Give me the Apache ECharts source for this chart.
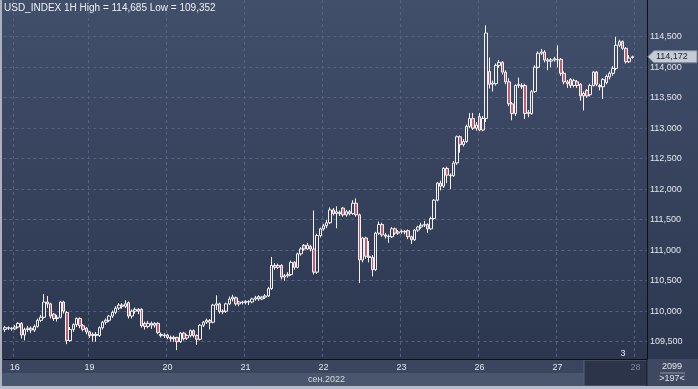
<!DOCTYPE html>
<html><head><meta charset="utf-8">
<script src="https://cdn.jsdelivr.net/npm/echarts@6/dist/echarts.min.js"></script>
<style>html,body{margin:0;padding:0;background:#2c3750;overflow:hidden}#c{width:698px;height:389px}</style>
</head><body><div id="c"></div>
<script>
// ---- data ----
const titleText = 'USD_INDEX 1H High = 114,685 Low = 109,352';
const monthLabel = 'сен.2022';
const dayNames = ['15','16','19','20','21','22','23','26','27','28'];
const barsPerDay = [3,23,24,24,24,24,24,24,24,4];
const yTicks = [109.5,110,110.5,111,111.5,112,112.5,113,113.5,114,114.5];
const lastPrice = 114.172;
const infoTop = '2099';
const infoBottom = '>197<';
const markerText = '3';

const opens = [
109.70,109.73,109.72,109.71,109.74,109.80,109.61,109.70,109.72,109.69,
109.75,109.85,109.90,110.15,110.12,109.95,109.88,109.90,110.15,109.98,
109.52,109.70,109.78,109.88,109.76,109.72,109.66,109.60,109.62,109.60,
109.73,109.82,109.85,109.92,109.98,110.05,110.10,110.08,110.14,109.92,
110.00,110.03,110.03,109.80,109.75,109.80,109.77,109.80,109.62,109.60,
109.61,109.57,109.55,109.57,109.50,109.64,109.56,109.60,109.68,109.60,
109.54,109.77,109.82,109.85,109.82,110.10,110.12,109.99,110.00,110.12,
110.20,110.22,110.12,110.15,110.14,110.16,110.15,110.20,110.24,110.20,
110.23,110.25,110.37,110.75,110.72,110.75,110.56,110.58,110.60,110.80,
110.72,110.94,111.08,111.02,111.06,111.02,110.64,111.24,111.35,111.40,
111.45,111.66,111.60,111.62,111.69,111.58,111.63,111.60,111.77,111.58,
110.84,111.20,110.90,110.88,110.68,111.28,111.42,111.25,111.23,111.22,
111.35,111.28,111.30,111.31,111.32,111.22,111.17,111.33,111.38,111.41,
111.42,111.35,111.52,111.82,112.10,112.05,112.34,112.23,112.22,112.43,
112.86,112.73,112.78,113.03,113.16,113.00,113.19,112.97,113.16,113.93,
113.72,113.73,114.03,114.08,113.92,113.76,113.40,113.24,113.70,113.70,
113.70,113.24,113.24,113.60,114.00,114.23,114.25,114.12,114.10,114.12,
114.12,114.13,113.90,113.76,113.80,113.70,113.76,113.72,113.53,113.62,
113.55,113.70,113.92,113.70,113.68,113.75,113.84,113.90,113.98,114.36,
114.42,114.31,114.09,114.16];
const closes = [
109.73,109.72,109.71,109.74,109.80,109.61,109.70,109.72,109.69,109.75,
109.85,109.90,110.15,110.12,109.92,109.88,109.90,110.15,110.00,109.52,
109.70,109.78,109.88,109.76,109.70,109.66,109.60,109.62,109.60,109.73,
109.82,109.85,109.92,109.98,110.05,110.10,110.08,110.12,109.92,110.00,
110.03,110.00,109.76,109.75,109.80,109.77,109.80,109.65,109.60,109.61,
109.57,109.55,109.57,109.50,109.64,109.55,109.60,109.68,109.60,109.54,
109.77,109.82,109.85,109.82,110.10,110.12,109.99,110.00,110.12,110.20,
110.23,110.12,110.15,110.14,110.16,110.15,110.20,110.22,110.20,110.23,
110.25,110.37,110.75,110.72,110.75,110.56,110.58,110.60,110.80,110.72,
110.94,111.02,111.02,111.08,111.02,110.64,111.24,111.35,111.40,111.45,
111.66,111.60,111.63,111.60,111.58,111.63,111.60,111.77,111.58,110.84,
111.20,110.90,110.88,110.68,111.28,111.42,111.25,111.23,111.22,111.35,
111.28,111.30,111.31,111.30,111.22,111.17,111.33,111.38,111.41,111.42,
111.35,111.52,111.82,112.10,112.05,112.34,112.23,112.22,112.43,112.86,
112.73,112.78,113.03,113.16,113.00,113.05,112.97,113.16,114.56,113.72,
113.74,114.03,114.08,113.92,113.76,113.40,113.24,113.70,113.72,113.68,
113.24,113.26,113.60,114.00,114.23,114.25,114.12,114.10,114.12,114.14,
114.13,113.90,113.76,113.73,113.70,113.78,113.70,113.53,113.57,113.53,
113.70,113.92,113.72,113.68,113.80,113.85,113.90,113.98,114.36,114.42,
114.31,114.09,114.15,114.172];
const lows = [
109.66,109.69,109.68,109.69,109.72,109.55,109.52,109.66,109.64,109.66,
109.73,109.82,109.88,110.05,109.88,109.84,109.83,109.88,109.96,109.46,
109.50,109.66,109.74,109.72,109.67,109.62,109.56,109.50,109.50,109.58,
109.70,109.78,109.82,109.89,109.95,110.02,110.04,110.05,109.88,109.88,
109.96,109.95,109.73,109.70,109.72,109.71,109.73,109.62,109.57,109.56,
109.54,109.50,109.50,109.36,109.48,109.52,109.53,109.57,109.57,109.45,
109.52,109.74,109.79,109.70,109.80,110.02,109.96,109.95,109.97,110.10,
110.16,110.09,110.08,110.11,110.11,110.10,110.13,110.17,110.17,110.18,
110.20,110.23,110.35,110.68,110.69,110.52,110.50,110.55,110.58,110.68,
110.70,110.91,110.99,111.00,110.98,110.60,110.61,111.21,111.32,111.36,
111.43,111.57,111.36,111.56,111.55,111.55,111.57,111.58,111.55,110.46,
110.80,110.86,110.80,110.57,110.66,111.25,111.22,111.19,111.12,111.20,
111.25,111.25,111.27,111.26,111.18,111.10,111.15,111.30,111.35,111.38,
111.28,111.33,111.50,111.80,111.98,112.02,112.10,112.00,112.20,112.40,
112.60,112.70,112.76,113.00,112.97,112.96,112.95,112.95,113.10,113.65,
113.60,113.70,113.99,113.88,113.72,113.36,113.13,113.20,113.66,113.64,
113.15,113.18,113.22,113.58,113.98,114.20,114.08,113.95,114.00,114.09,
114.00,113.86,113.72,113.66,113.66,113.67,113.66,113.45,113.29,113.50,
113.52,113.68,113.69,113.62,113.48,113.72,113.80,113.86,113.95,114.33,
114.28,114.06,114.07,114.14];
const highs = [
109.76,109.75,109.74,109.77,109.82,109.82,109.73,109.76,109.75,109.78,
109.88,109.94,110.28,110.25,110.14,109.97,109.94,110.17,110.17,110.00,
109.74,109.80,109.90,109.90,109.79,109.74,109.68,109.65,109.66,109.75,
109.84,109.88,109.94,110.01,110.08,110.13,110.13,110.18,110.16,110.03,
110.06,110.05,110.05,109.83,109.84,109.83,109.82,109.82,109.65,109.64,
109.63,109.60,109.60,109.58,109.66,109.66,109.62,109.70,109.70,109.62,
109.79,109.84,109.88,109.87,110.12,110.26,110.14,110.03,110.14,110.24,
110.27,110.24,110.17,110.17,110.18,110.18,110.22,110.25,110.26,110.25,
110.28,110.40,110.89,110.79,110.78,110.77,110.61,110.64,110.83,110.82,
110.96,111.05,111.10,111.12,111.09,111.65,111.27,111.37,111.43,111.50,
111.70,111.69,111.72,111.65,111.71,111.66,111.66,111.82,111.85,111.60,
111.22,111.22,111.15,110.92,111.30,111.47,111.45,111.28,111.26,111.38,
111.37,111.33,111.34,111.33,111.34,111.24,111.35,111.40,111.45,111.48,
111.44,111.55,111.84,112.12,112.14,112.36,112.37,112.26,112.46,112.88,
112.88,112.82,113.06,113.25,113.25,113.10,113.25,113.20,114.685,114.16,
113.78,114.06,114.12,114.10,113.95,113.82,113.43,113.72,113.83,113.74,
113.73,113.30,113.63,114.03,114.26,114.30,114.28,114.15,114.15,114.17,
114.36,114.15,113.93,113.79,113.82,113.81,113.79,113.74,113.60,113.64,
113.73,113.94,113.94,113.73,113.82,113.88,113.93,114.02,114.50,114.45,
114.44,114.33,114.20,114.19];

// ---- build ----
const categories = [];
dayNames.forEach((d, k) => { for (let h = 0; h < barsPerDay[k]; h++) categories.push(d + ' ' + h); });
const dayOf = i => categories[i].split(' ')[0];
const isDayStart = i => i > 0 && dayOf(i) !== dayOf(i - 1);
const candles = opens.map((o, i) => [o, closes[i], lows[i], highs[i]]);
const fmt = v => v.toFixed(3).replace('.', ',');

const W = 698, H = 389;
const gridLeft = 3.375, gridRight = 51.125, gridBottom = 30;
const yMin = 109.216, yMax = 115.102;
const FONT = '"Liberation Sans", Arial, sans-serif';
const gridColor = '#56627d';

const chart = echarts.init(document.getElementById('c'), null, {renderer: 'canvas', width: W, height: H});

const option = {
  animation: false,
  backgroundColor: {type: 'linear', x: 0, y: 0, x2: 0, y2: 1,
    colorStops: [{offset: 0, color: '#424f6b'}, {offset: 0.5, color: '#36425c'}, {offset: 1, color: '#2a344d'}]},
  grid: {left: gridLeft, right: gridRight, top: 0, bottom: gridBottom, containLabel: false},
  xAxis: {
    type: 'category', data: categories, boundaryGap: true,
    axisLine: {show: true, onZero: false, lineStyle: {color: '#0c0f16', width: 1}},
    axisTick: {show: false},
    axisLabel: {
      interval: (i) => isDayStart(i),
      formatter: v => v.split(' ')[0],
      color: (v) => (v.split(' ')[0] === dayNames[dayNames.length - 1] ? '#7b859a' : '#e2e6ec'),
      fontSize: 9, fontFamily: FONT, margin: 4
    },
    splitLine: {show: true, interval: (i) => isDayStart(i), lineStyle: {color: gridColor, type: [3, 3], width: 1}}
  },
  yAxis: {
    type: 'value', position: 'right', min: yMin, max: yMax,
    axisLine: {show: true, lineStyle: {color: '#0c0f16', width: 1}},
    axisTick: {show: false, customValues: yTicks},
    axisLabel: {customValues: yTicks, formatter: fmt, color: '#e2e6ec', fontSize: 9, fontFamily: FONT, margin: 3},
    splitLine: {show: true, lineStyle: {color: gridColor, type: [3, 3], width: 1}}
  },
  series: [{
    type: 'candlestick', data: candles, barWidth: 3,
    itemStyle: {color: 'rgba(0,0,0,0)', color0: '#c45c70', borderColor: '#f2f2f2', borderColor0: '#f2f2f2', borderWidth: 1}
  }]
};
chart.setOption(option);

const py = chart.convertToPixel({yAxisIndex: 0}, lastPrice);
const axisX = W - gridRight;
const axisY = H - gridBottom;
const gfx = [
  // bottom strips
  {type: 'rect', z: -10, shape: {x: 0, y: axisY, width: W, height: H - axisY}, style: {fill: '#3b465e'}},
  {type: 'rect', z: -10, shape: {x: 0, y: axisY + 14, width: axisX, height: 13}, style: {fill: '#4a566e'}},
  {type: 'rect', z: -9, shape: {x: 584, y: axisY + 1, width: axisX - 584, height: 26}, style: {fill: '#2b3448', stroke: '#56627a', lineWidth: 1}},
  {type: 'rect', z: -10, shape: {x: axisX, y: axisY, width: W - axisX, height: H - axisY}, style: {fill: '#3e4961'}},
  // frame
  {type: 'rect', z: 50, shape: {x: 0, y: 0, width: 2, height: H}, style: {fill: '#aab2be'}},
  {type: 'rect', z: 50, shape: {x: 0, y: H - 3, width: W, height: 3}, style: {fill: '#b6bdc8'}},
  {type: 'line', z: 40, shape: {x1: axisX, y1: axisY, x2: axisX, y2: H}, style: {stroke: '#0c0f16', lineWidth: 1}},
  // title
  {type: 'text', z: 60, style: {text: titleText, x: 4, y: 8, fill: '#eef1f5', font: '10px ' + FONT, verticalAlign: 'middle'}},
  // month label
  {type: 'text', z: 60, style: {text: monthLabel, x: 345, y: axisY + 21, fill: '#d6dbe3', font: '9px ' + FONT, align: 'right', verticalAlign: 'middle'}},
  // info box
  {type: 'text', z: 60, style: {text: infoTop, x: 672, y: axisY + 8, fill: '#e2e6ec', font: '9px ' + FONT, align: 'center', verticalAlign: 'middle'}},
  {type: 'line', z: 60, shape: {x1: 660, y1: axisY + 14, x2: 685, y2: axisY + 14}, style: {stroke: '#8c96a8', lineWidth: 1}},
  {type: 'text', z: 60, style: {text: infoBottom, x: 672, y: axisY + 20, fill: '#e2e6ec', font: '9px ' + FONT, align: 'center', verticalAlign: 'middle'}},
  // small marker
  {type: 'text', z: 60, style: {text: markerText, x: 623, y: 354, fill: '#e8ebf0', font: '9px ' + FONT, align: 'center', verticalAlign: 'middle'}},
  // last price tag
  {type: 'polygon', z: 60, shape: {points: [[axisX + 1, py], [axisX + 7, py - 6], [W - 1, py - 6], [W - 1, py + 6], [axisX + 7, py + 6]]},
    style: {fill: '#c6ccd6', stroke: '#7f8899', lineWidth: 1}},
  {type: 'text', z: 61, style: {text: fmt(lastPrice), x: axisX + 9, y: py, fill: '#1b2232', font: '9px ' + FONT, verticalAlign: 'middle'}}
];
chart.setOption({graphic: gfx});
</script>
</body></html>
